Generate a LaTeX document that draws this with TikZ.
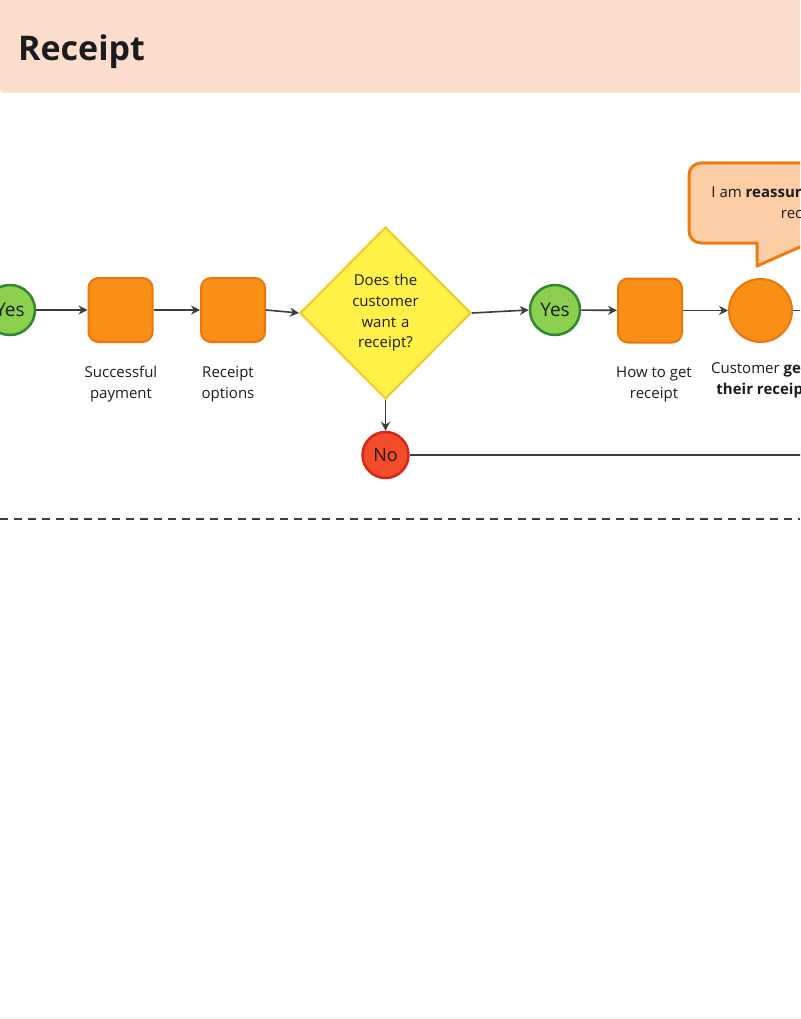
\documentclass[tikz,border=0pt]{standalone}
\usepackage{fontspec}
\setmainfont{Open Sans}
\usepackage{tikz}
\usetikzlibrary{shapes.geometric, arrows.meta, positioning}
\definecolor{mytext}{RGB}{28,28,28}
\definecolor{myline}{RGB}{60,60,60}
\definecolor{hdrpeach}{RGB}{250,221,205}
\definecolor{myorange}{RGB}{250,143,24}
\definecolor{orangeedge}{RGB}{234,118,16}
\definecolor{mygreen}{RGB}{140,207,78}
\definecolor{greenedge}{RGB}{48,135,48}
\definecolor{myred}{RGB}{242,76,42}
\definecolor{rededge}{RGB}{212,38,26}
\definecolor{myyellow}{RGB}{255,241,72}
\definecolor{yellowedge}{RGB}{240,200,40}
\definecolor{bubblefill}{RGB}{253,206,166}
\definecolor{bubbleedge}{RGB}{238,122,20}
\tikzset{
  stepbox/.style={rectangle, draw=orangeedge, fill=myorange,
    minimum size=64pt, rounded corners=10pt, line width=2pt},
  touchpt/.style={circle, draw=orangeedge, fill=myorange,
    minimum size=63pt, inner sep=0pt, line width=2pt},
  decision/.style={diamond, draw=yellowedge, fill=myyellow,
    minimum width=171pt, minimum height=172pt, inner sep=0pt,
    text width=84pt, align=center, line width=2pt,
    font=\fontsize{15}{20.7}\selectfont, text=mytext},
  yesnode/.style={circle, draw=greenedge, fill=mygreen,
    minimum size=50pt, inner sep=0pt, line width=2.5pt,
    font=\fontsize{19}{22}\selectfont, text=mytext},
  nonode/.style={circle, draw=rededge, fill=myred,
    minimum size=46pt, inner sep=0pt, line width=2.5pt,
    font=\fontsize{18}{22}\selectfont, text=mytext},
  lbl/.style={align=center, font=\fontsize{15}{21}\selectfont, text=mytext},
  arrow/.style={-{Stealth[length=9pt, width=9pt]}, line width=1.6pt, color=myline},
  line/.style={line width=1.6pt, color=myline}
}
\begin{document}
\begin{tikzpicture}[x=1pt, y=-1pt]
  \useasboundingbox (0,0) rectangle (800,1019);
  \clip (0,0) rectangle (800,1019);
  \fill[white] (0,0) rectangle (800,1019);

  % Header band
  \fill[hdrpeach, rounded corners=4pt] (0,-10) rectangle (810,93);
  \node[anchor=base west, font=\fontsize{34}{38}\selectfont\bfseries, text=mytext, inner sep=0pt]
    (title) at (18,61) {Receipt};

  % Lane divider and bottom rule
  \draw[dash pattern=on 8pt off 6pt, line width=1.5pt, color=myline] (0,519) -- (800,519);
  \draw[line width=1pt, color=black!6] (0,1018) -- (800,1018);

  % Main flow
  \node[yesnode] (yes1) at (10,310) {Yes};
  \node[stepbox] (pay) at (120.5,310) {};
  \node[stepbox] (opts) at (233,310) {};
  \node[decision] (want) at (385.5,313) {Does the customer want a receipt?};
  \node[yesnode] (yes2) at (555,310) {Yes};
  \node[stepbox] (how) at (650,310.5) {};
  \node[touchpt] (gets) at (760.5,310.5) {};
  \node[nonode] (no) at (385.5,455) {No};

  % Step labels
  \node[lbl] (payl) at (121,384) {Successful\\payment};
  \node[lbl] (optsl) at (228,384) {Receipt\\options};
  \node[lbl] (howl) at (654,384) {How to get\\receipt};
  \node[lbl] (getsl) at (763,380) {Customer \textbf{gets}\\\textbf{their receipt}};

  % Open ends at the right edge
  \coordinate (noend) at (805,455);
  \coordinate (getsend) at (805,310.5);

  % Connectors
  \draw[arrow] (yes1) -- (pay);
  \draw[arrow] (pay) -- (opts);
  \draw[arrow] (opts.east) -- (want.west);
  \draw[arrow] (want.east) -- (yes2.west);
  \draw[arrow] (yes2) -- (how);
  \draw[arrow] (how) -- (gets);
  \draw[arrow] (want.south) -- (no.north);
  \draw[line] (no.east) -- (noend);
  \draw[line] (gets.east) -- (getsend);

  % Speech bubble
  \draw[draw=bubbleedge, fill=bubblefill, line width=3pt, line join=round]
    (757,266) -- (757,243) [rounded corners=12pt] -- (689,243) -- (689,163)
    -- (850,163) -- (850,243) [sharp corners] -- (809,243) -- cycle;
  \node[lbl] (quote) at (805,204) {I am \textbf{reassured} that I got a\\receipt};
\end{tikzpicture}
\end{document}
